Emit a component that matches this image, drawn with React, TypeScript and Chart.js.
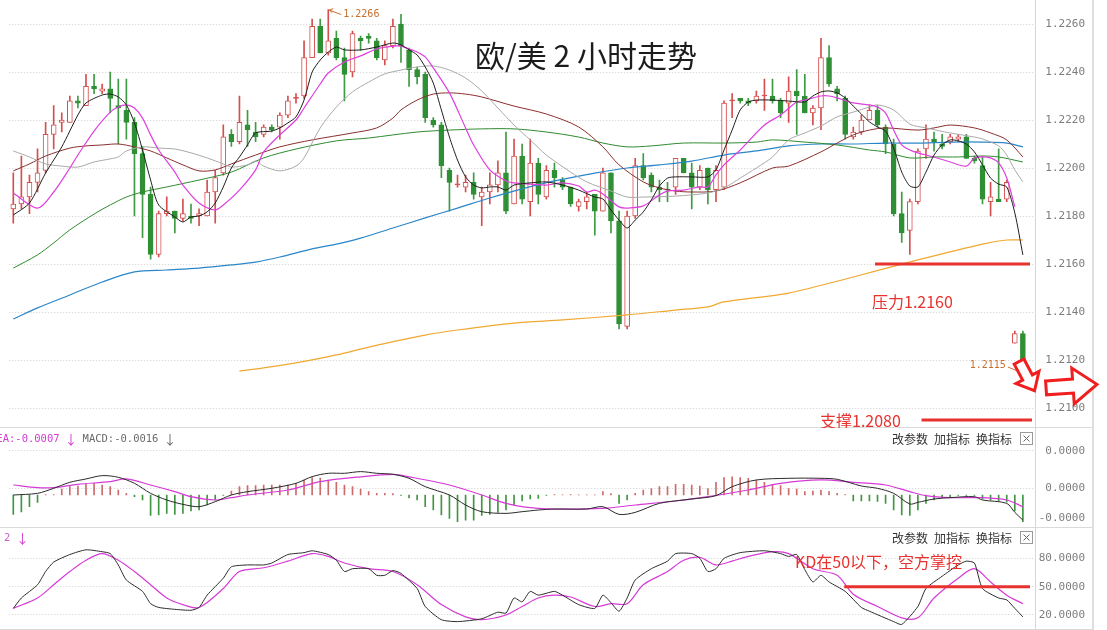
import React, { useEffect, useRef } from 'react';
import { Chart, registerables } from 'chart.js';
Chart.register(...registerables);

// ---------- data ----------
const SLOT_COUNT = 127;
const slotLabels = Array.from({ length: SLOT_COUNT }, (_, i) => String(i));

const opens = [1.2183,1.2185,1.2188,1.2194,1.2199,1.2214,1.2219,1.2219,1.2228,1.2226,
 1.2234,1.2232,1.2233,1.2226,1.2224,1.2219,1.2206,1.2189,1.2164,1.2181,
 1.2182,1.2179,1.2180,1.2180,1.2180,1.2190,1.2198,1.2214,1.2211,1.2218,
 1.2215,1.2214,1.2217,1.2217,1.2222,1.2229,1.2230,1.2246,1.2259,1.2248,
 1.2254,1.2246,1.2240,1.2254,1.2255,1.2253,1.2245,1.2251,1.2260,1.2249,
 1.2241,1.2239,1.2220,1.2218,1.2199,1.2193,1.2192,1.2194,1.2188,1.2190,
 1.2193,1.2198,1.2185,1.2205,1.2186,1.2202,1.2188,1.2199,1.2195,1.2192,
 1.2184,1.2186,1.2189,1.2182,1.2198,1.2178,1.2134,1.2180,1.2201,1.2197,
 1.2192,1.21912,1.2192,1.2204,1.2198,1.2192,1.2200,1.2191,1.2192,1.2228,
 1.2229,1.2228,1.2228,1.2230,1.2230,1.2228,1.2227,1.2232,1.2230,1.2223,
 1.2225,1.2246,1.2233,1.2229,1.2213,1.2215,1.2220,1.2224,1.2217,1.2210,
 1.2181,1.2174,1.2186,1.2208,1.2212,1.2210,1.2211,1.2212,1.2213,1.2204,
 1.2201,1.2186,1.2187,1.2187,1.2127,1.2131];
const highs = [1.2198,1.2205,1.2197,1.2208,1.2219,1.2226,1.2223,1.2230,1.2230,1.2239,
 1.2239,1.2235,1.2240,1.2237,1.2237,1.2221,1.2209,1.2192,1.2182,1.2188,
 1.2182,1.2187,1.2185,1.2183,1.2195,1.2199,1.2218,1.2216,1.2230,1.2224,
 1.2219,1.2218,1.2218,1.2223,1.2230,1.2231,1.2253,1.2262,1.2262,1.2266,
 1.2257,1.2250,1.2257,1.2255,1.2256,1.2254,1.2253,1.2262,1.2264,1.2250,
 1.2242,1.2240,1.2221,1.2219,1.2200,1.2197,1.2197,1.2198,1.2192,1.2198,
 1.2203,1.2215,1.2212,1.2210,1.2212,1.2204,1.2201,1.2202,1.2196,1.2192,
 1.2187,1.2190,1.2189,1.2200,1.2198,1.2182,1.2182,1.2204,1.2206,1.2198,
 1.2195,1.2194,1.2204,1.2204,1.2202,1.2201,1.2200,1.2201,1.2228,1.2231,
 1.2229,1.2229,1.2232,1.2237,1.2237,1.2229,1.2238,1.2241,1.2239,1.2226,
 1.2254,1.2251,1.2234,1.2230,1.2217,1.2222,1.2226,1.2226,1.2218,1.2212,
 1.2190,1.2187,1.2208,1.2218,1.2215,1.2214,1.2214,1.2214,1.2214,1.2205,
 1.2205,1.2194,1.2208,1.2195,1.2132,1.2132];
const lows = [1.2177,1.2183,1.2181,1.2190,1.2198,1.2208,1.2215,1.2219,1.2225,1.2226,
 1.2231,1.2231,1.2223,1.2210,1.2212,1.2180,1.2171,1.2162,1.2163,1.2180,
 1.2173,1.2178,1.2177,1.2176,1.2180,1.2177,1.2197,1.2209,1.2210,1.2209,
 1.2211,1.2213,1.2215,1.2212,1.2221,1.2227,1.2229,1.2246,1.2248,1.2247,
 1.2245,1.2228,1.2238,1.2249,1.2252,1.2245,1.2243,1.2250,1.2244,1.2234,
 1.2235,1.2219,1.2217,1.2196,1.2182,1.2192,1.2190,1.2187,1.2176,1.2185,
 1.2190,1.2181,1.2185,1.2185,1.2180,1.2185,1.2187,1.2192,1.2191,1.2184,
 1.2182,1.2183,1.2172,1.2182,1.2173,1.2133,1.2133,1.2179,1.2195,1.2190,
 1.2186,1.2186,1.2189,1.2198,1.2183,1.2191,1.2185,1.2186,1.2191,1.2221,
 1.2227,1.2226,1.2227,1.2224,1.2227,1.2221,1.2219,1.2214,1.2223,1.2218,
 1.2216,1.2234,1.2228,1.2212,1.2212,1.2214,1.2220,1.2217,1.2206,1.2180,
 1.2169,1.2164,1.2185,1.2204,1.2207,1.2208,1.2210,1.2211,1.2204,1.2202,
 1.2185,1.2180,1.2186,1.2186,1.2127,1.2115];
const closes = [1.2185,1.2188,1.2194,1.2198,1.2214,1.2218,1.2220,1.2228,1.2227,1.2234,
 1.2233,1.2233,1.2229,1.2225,1.2219,1.2206,1.2189,1.2164,1.2181,1.2182,
 1.2179,1.2181,1.2179,1.2181,1.2190,1.2196,1.2213,1.2211,1.2219,1.2216,
 1.2213,1.2217,1.2216,1.2222,1.2228,1.2229,1.2246,1.2259,1.2248,1.2253,
 1.2246,1.2239,1.2256,1.2253,1.2254,1.2246,1.2251,1.2259,1.2251,1.2241,
 1.2238,1.2221,1.2218,1.2201,1.2194,1.2193,1.2194,1.2189,1.2190,1.2193,
 1.2198,1.2182,1.2205,1.2187,1.2202,1.2189,1.2199,1.2196,1.2192,1.2185,
 1.2186,1.2188,1.2182,1.2198,1.2178,1.2135,1.2180,1.2201,1.2196,1.2192,
 1.2191,1.21908,1.2204,1.2198,1.2192,1.2199,1.2191,1.2199,1.2227,1.2228,
 1.2228,1.2227,1.2230,1.2230,1.2228,1.2223,1.2232,1.2230,1.2223,1.2225,
 1.2246,1.2235,1.2231,1.2214,1.2215,1.2220,1.2224,1.2218,1.2210,1.2181,
 1.2173,1.2186,1.2207,1.2212,1.2211,1.2209,1.2213,1.2213,1.2204,1.2203,
 1.2187,1.2188,1.2186,1.2194,1.2131,1.2118];

// moving averages: [candle index, price]
const ma5 = [[0,1.21804],[2,1.21854],[4,1.21979],[6,1.22088],[8,1.22221],[9,1.22271],[11,1.22304],[12,1.22308],[13,1.22296],[14,1.22263],[15,1.22188],[16,1.22075],[17,1.2195],[18,1.21846],[20,1.21796],[21,1.21775],[22,1.21796],[23,1.218],[24,1.21817],[25,1.21854],[26,1.21921],[27,1.22],[28,1.22046],[29,1.22096],[30,1.22146],[32,1.22154],[33,1.22167],[34,1.22188],[35,1.22213],[36,1.22283],[37,1.224],[38,1.2245],[39,1.22483],[40,1.22504],[41,1.22492],[43,1.22492],[45,1.22504],[47,1.22521],[48,1.22513],[49,1.22492],[50,1.22471],[51,1.22421],[52,1.22354],[53,1.22242],[54,1.22129],[55,1.22033],[56,1.21963],[57,1.21929],[58,1.21917],[59,1.21921],[60,1.21921],[61,1.21908],[62,1.21929],[64,1.21938],[66,1.21942],[68,1.21929],[70,1.21908],[72,1.21879],[73,1.21871],[74,1.21825],[75,1.21783],[76,1.2175],[77,1.21783],[78,1.21817],[79,1.21867],[80,1.21925],[81,1.21958],[82,1.21963],[84,1.21963],[86,1.21963],[87,1.21992],[88,1.22075],[89,1.22158],[90,1.22242],[91,1.22275],[92,1.22283],[94,1.22283],[96,1.22279],[98,1.22275],[99,1.223],[100,1.22317],[101,1.22321],[102,1.22313],[103,1.22292],[104,1.22258],[105,1.22225],[106,1.22192],[107,1.22171],[108,1.22154],[109,1.22083],[110,1.21983],[111,1.21925],[112,1.21921],[113,1.21983],[114,1.22054],[115,1.22096],[116,1.22117],[117,1.22113],[118,1.221],[119,1.22067],[120,1.22013],[121,1.21958],[122,1.21933],[123,1.21921],[124,1.21813],[125,1.21638]];
const ma10 = [[0,1.21896],[3,1.21833],[5,1.219],[7,1.22],[8,1.22054],[10,1.22154],[12,1.22233],[13,1.22254],[14,1.22263],[15,1.2225],[16,1.22208],[17,1.22138],[18,1.22075],[20,1.21983],[21,1.21929],[23,1.21854],[25,1.21825],[26,1.21846],[28,1.21908],[30,1.21992],[31,1.22067],[33,1.22138],[35,1.222],[36,1.2225],[38,1.2235],[39,1.22396],[41,1.22442],[43,1.22467],[45,1.22496],[47,1.22508],[48,1.22508],[49,1.22496],[50,1.22483],[51,1.22463],[52,1.22417],[54,1.22313],[56,1.22167],[57,1.22096],[59,1.21992],[61,1.21946],[62,1.21938],[64,1.21933],[66,1.21929],[68,1.21938],[70,1.21925],[71,1.219],[72,1.21908],[73,1.21892],[75,1.21838],[76,1.21833],[78,1.21842],[80,1.21888],[81,1.21904],[83,1.21908],[85,1.21921],[86,1.21921],[87,1.21971],[88,1.22013],[90,1.22075],[93,1.22179],[95,1.22221],[97,1.22275],[98,1.22283],[100,1.223],[101,1.223],[102,1.22292],[104,1.22271],[106,1.22263],[107,1.22254],[108,1.22229],[109,1.22158],[110,1.22096],[111,1.22075],[112,1.22063],[114,1.22046],[116,1.22025],[118,1.22008],[119,1.22042],[120,1.22046],[121,1.22042],[122,1.22021],[123,1.21958],[124,1.21838]];
const ma20 = [[0,1.22071],[2,1.22046],[4,1.22017],[6,1.22008],[8,1.22004],[10,1.22025],[12,1.22038],[13,1.22046],[14,1.22071],[16,1.22088],[18,1.22083],[20,1.22079],[22,1.22063],[24,1.22042],[26,1.22017],[27,1.22004],[29,1.22013],[30,1.22029],[31,1.22008],[33,1.21988],[35,1.22008],[36,1.22042],[38,1.22167],[40,1.22254],[42,1.22317],[44,1.22358],[46,1.22392],[48,1.22408],[50,1.22421],[52,1.22425],[54,1.22408],[56,1.22375],[58,1.22321],[60,1.2225],[62,1.22179],[64,1.22117],[66,1.22054],[69,1.21983],[71,1.21942],[74,1.21904],[76,1.21879],[78,1.21879],[82,1.21883],[86,1.21896],[88,1.21917],[90,1.21958],[92,1.22],[94,1.22046],[96,1.22117],[98,1.22146],[100,1.22175],[102,1.22213],[104,1.22233],[106,1.22254],[107,1.22263],[109,1.22242],[111,1.22183],[113,1.22167],[116,1.22146],[119,1.22129],[120,1.22121],[122,1.22092],[123,1.22054],[124,1.21992],[125,1.21942]];
const ma30 = [[0,1.21988],[2,1.22017],[4,1.2205],[7,1.22083],[9,1.22092],[11,1.22096],[13,1.221],[15,1.22088],[17,1.22071],[19,1.22042],[21,1.22013],[23,1.21988],[25,1.21992],[27,1.22017],[30,1.22054],[33,1.22088],[37,1.22117],[42,1.22146],[45,1.22167],[47,1.22208],[48,1.22242],[50,1.22283],[52,1.22308],[54,1.22313],[56,1.22308],[58,1.22296],[62,1.22258],[66,1.22225],[70,1.22171],[73,1.22088],[75,1.22013],[78,1.21942],[80,1.21917],[82,1.21904],[84,1.219],[87,1.21904],[90,1.21938],[94,1.22],[96,1.22008],[100,1.22067],[102,1.22104],[104,1.22138],[106,1.22158],[108,1.22167],[112,1.22158],[114,1.22167],[116,1.22179],[119,1.22167],[121,1.22146],[123,1.22117],[125,1.22046]];
const ma60 = [[0,1.21583],[3,1.21638],[5,1.21688],[7,1.21742],[10,1.21808],[12,1.21846],[14,1.21879],[16,1.219],[19,1.21921],[23,1.2195],[27,1.21983],[31,1.22042],[35,1.22079],[40,1.22113],[44,1.22125],[50,1.2215],[54,1.22158],[58,1.22163],[62,1.22163],[66,1.2215],[70,1.22129],[73,1.22104],[76,1.22088],[79,1.22092],[83,1.22104],[88,1.22104],[92,1.22108],[94,1.22117],[98,1.22108],[102,1.22096],[106,1.22075],[108,1.22067],[111,1.22042],[114,1.22046],[117,1.22046],[120,1.2205],[122,1.22046],[125,1.22025]];
const ma120 = [[0,1.21371],[3,1.21417],[7,1.21471],[11,1.21525],[15,1.21567],[19,1.21575],[23,1.21583],[27,1.21596],[30,1.21608],[33,1.21629],[37,1.21663],[40,1.21683],[43,1.21708],[47,1.2175],[51,1.21792],[55,1.21833],[59,1.21875],[63,1.21913],[67,1.21946],[72,1.21979],[76,1.22],[80,1.22013],[84,1.22029],[88,1.22054],[92,1.22071],[96,1.22092],[100,1.221],[104,1.221],[108,1.22104],[112,1.22104],[116,1.22108],[120,1.22108],[123,1.22104],[125,1.22088]];
const ma250 = [[28,1.21154],[31,1.21167],[35,1.21188],[40,1.21221],[44,1.21254],[51,1.21304],[55,1.21325],[62,1.21354],[68,1.21367],[76,1.21388],[82,1.21408],[86,1.21421],[88,1.21442],[96,1.21479],[104,1.21546],[112,1.21617],[120,1.21683],[123,1.217],[125,1.217]];

const priceTicks = [1.21, 1.212, 1.214, 1.216, 1.218, 1.22, 1.222, 1.224, 1.226];
const PRESSURE_LEVEL = 1.2160;
const SUPPORT_LINE_LEVEL = 1.2095;
const pressureText = '压力1.2160';
const supportText = '支撑1.2080';
const chartTitle = '欧/美 2 小时走势';

// MACD
const macdHist = [-0.00117,-0.00101,-0.0007,-0.00045,0.00003,0.00003,0.00036,0.0005,0.00054,0.00064,
 0.0007,0.0006,0.0005,0.0003,0.0001,-0.0001,-0.0003,-0.00123,-0.0012,-0.0011,
 -0.00116,-0.0011,-0.00095,-0.00089,-0.0006,-0.0003,-0.00003,0.00024,0.0005,0.00056,
 0.00056,0.0006,0.0006,0.0006,0.0006,0.0007,0.00089,0.00104,0.00101,0.00089,
 0.00076,0.0006,0.0005,0.00036,0.0002,0.0001,0.0001,0.00008,-0.00002,-0.00017,
 -0.0003,-0.0007,-0.00089,-0.0012,-0.0014,-0.0016,-0.0015,-0.0015,-0.00123,-0.00116,
 -0.00104,-0.00089,-0.0006,-0.00036,-0.00024,-0.0002,-0.00003,0.00002,0.00001,0.00002,
 0.00001,0.00001,0.00001,0.0002,0.00008,-0.0005,-0.0003,0.0001,0.0003,0.00039,
 0.0005,0.0005,0.00064,0.00064,0.0006,0.00054,0.00039,0.00076,0.00104,0.00109,
 0.00104,0.001,0.00089,0.00076,0.00064,0.00056,0.00039,0.00036,0.0002,0.00024,
 0.0003,0.0002,0.0001,0.00002,-0.00036,-0.00036,-0.00036,-0.00039,-0.0005,-0.00089,
 -0.0012,-0.00123,-0.00089,-0.0005,-0.0003,-0.00016,-0.00016,-0.00002,-0.00002,-0.00002,
 -0.00024,-0.0003,-0.00036,-0.00042,-0.00095,-0.0016];
const difPts = [[0,0],[3,0.0001],[5,0.0004],[7,0.00076],[9,0.00096],[11,0.00116],[13,0.00106],[15,0.0007],[17,0.0001],[19,-0.0003],[21,-0.00056],[23,-0.0007],[25,-0.0004],[27,0],[29,0.0002],[32,0.0004],[35,0.0007],[37,0.0011],[39,0.0013],[41,0.0013],[43,0.0014],[45,0.0013],[47,0.00124],[49,0.001],[51,0.0005],[54,0],[56,-0.0006],[58,-0.001],[61,-0.0011],[63,-0.001],[65,-0.0009],[67,-0.00084],[71,-0.00084],[73,-0.0007],[75,-0.00116],[77,-0.00104],[80,-0.0005],[84,-0.00024],[87,-0.00004],[89,0.0005],[92,0.0009],[96,0.001],[100,0.001],[102,0.00094],[105,0.00054],[107,0.0004],[109,0.0001],[111,-0.00054],[112,-0.00044],[114,-0.00024],[116,-0.00016],[119,-0.0001],[120,-0.0003],[123,-0.0005],[124,-0.00104],[125,-0.0015]];
const deaPts = [[0,0.0006],[3,0.00044],[5,0.00044],[8,0.00064],[12,0.0008],[14,0.00096],[17,0.0006],[20,0.0002],[22,-0.0001],[25,-0.0003],[27,-0.00016],[29,0],[34,0.0003],[38,0.0008],[43,0.00109],[47,0.00123],[49,0.00109],[54,0.0006],[58,0],[61,-0.0005],[64,-0.00076],[67,-0.00084],[73,-0.0008],[77,-0.0006],[82,-0.00036],[86,-0.0001],[91,0.0003],[95,0.0007],[100,0.0009],[104,0.00076],[108,0.0006],[111,0.0002],[113,-0.00004],[116,-0.00016],[120,-0.00016],[123,-0.0003],[125,-0.0007]];
const macdTickValues = [0.002635, 0.000419, -0.001377];
const macdTickLabels = ['0.0000', '0.0000', '-0.0000'];

// KD
const kPts = [[0,27],[1,38],[3,52],[4,66],[5,76],[7,84],[9,89],[11,87],[12,85],[13,73],[14,57],[16,45],[17,32],[18,28],[20,26],[22,25],[23,28],[24,41],[26,59],[27,71],[29,73],[31,73],[32,75],[34,84],[36,86],[37,88],[39,84],[40,78],[41,66],[42,69],[44,69],[45,62],[46,62],[47,67],[48,64],[50,48],[51,29],[53,15],[55,13],[58,16],[60,23],[61,22],[62,38],[63,34],[64,45],[65,41],[67,45],[68,41],[70,31],[72,27],[73,41],[74,33],[75,24],[76,38],[77,57],[79,69],[81,77],[82,85],[84,85],[85,80],[86,66],[87,69],[88,80],[90,86],[93,88],[95,85],[96,82],[97,84],[98,68],[99,55],[100,62],[101,55],[103,45],[105,28],[106,24],[109,13],[110,10],[112,29],[113,48],[115,61],[117,73],[118,77],[119,75],[120,48],[122,38],[123,36],[124,27],[125,18]];
const dPts = [[0,27],[3,38],[5,52],[7,66],[9,78],[11,85],[13,78],[15,66],[17,52],[19,38],[21,31],[23,28],[26,48],[28,66],[31,70],[34,77],[37,85],[39,82],[41,75],[44,69],[47,66],[50,52],[53,31],[56,18],[58,15],[61,20],[63,29],[65,38],[67,41],[69,39],[72,29],[74,32],[76,32],[78,52],[81,66],[83,78],[85,81],[87,73],[89,77],[91,82],[94,87],[96,85],[99,69],[102,62],[104,42],[107,29],[110,17],[112,17],[114,38],[117,59],[119,69],[121,55],[123,41],[125,32]];
const kdTicks = [80, 50, 20];
const KD_LEVEL = 50;
const kdNote = 'KD在50以下，空方掌控';
const panelButtons = ['改参数', '加指标', '换指标'];

// ---------- styling ----------
const UP = '#d44f4f';
const DOWN = '#2f8f34';
const GRID = '#cfcfcf';
const NOTE_RED = '#e8322e';
const LABEL_ORANGE = '#c8702e';
const CJK = '"Noto Sans CJK SC", sans-serif';
const MONO = '"DejaVu Sans Mono", monospace';
const W = 1107;
const AXIS_W = 50;
const PAD_L = 9.26;
const PAD_R = 22;
const MAIN_H = 428;
const MACD_H = 100;
const KD_H = 102;

const sparse = (pts: number[][]) => {
  const out: (number | null)[] = new Array(SLOT_COUNT).fill(null);
  for (const [i, v] of pts) out[i] = v;
  return out;
};

const lineDs = (label: string, pts: number[][], color: string, width = 1, tension = 0.3) => ({
  type: 'line', label, data: sparse(pts), borderColor: color, borderWidth: width,
  pointRadius: 0, tension, spanGaps: true, fill: false, order: 1,
});

const xScale = { type: 'category', labels: slotLabels, offset: true, display: false, grid: { display: false } };

const yScale = (min: number, max: number, tickVals: number[], fmt: (v: number, i: number) => string, gridFilter?: (i: number) => boolean) => ({
  position: 'right', min, max,
  afterFit: (s: any) => { s.width = AXIS_W; s.paddingTop = 0; s.paddingBottom = 0; },
  afterBuildTicks: (s: any) => { s.ticks = tickVals.map((v) => ({ value: v })); },
  ticks: {
    autoSkip: false, crossAlign: 'far', padding: 0, color: '#7d7d7d',
    font: { family: '"DejaVu Sans Mono", monospace', size: 11 },
    callback: (v: number, i: number) => fmt(v, i),
  },
  grid: {
    drawTicks: false, lineWidth: 1,
    color: (c: any) => (gridFilter && !gridFilter(c.index) ? 'rgba(0,0,0,0)' : GRID),
  },
  border: { display: false, dash: [1, 2] },
});

const baseOptions = (scales: any) => ({
  responsive: false, animation: false, maintainAspectRatio: false, events: [],
  layout: { padding: { left: PAD_L, right: PAD_R, top: 0, bottom: 0 } },
  plugins: { legend: { display: false }, tooltip: { enabled: false } },
  scales,
});

const hline = (ctx: any, x1: number, y1: number, x2: number, y2: number) => {
  ctx.beginPath(); ctx.moveTo(x1, y1); ctx.lineTo(x2, y2); ctx.stroke();
};

const frame = (chart: any) => {
  const { ctx, chartArea } = chart;
  ctx.strokeStyle = '#d6d6d6'; ctx.lineWidth = 1;
  hline(ctx, Math.round(chartArea.right) + 0.5, 0, Math.round(chartArea.right) + 0.5, chart.height);
  ctx.strokeStyle = '#dedede'; ctx.lineWidth = 2;
  hline(ctx, 1093, 0, 1093, chart.height);
  ctx.strokeStyle = '#dadada'; ctx.lineWidth = 1;
  hline(ctx, 0, chart.height - 0.5, 1093, chart.height - 0.5);
};

const drawArrow = (ctx: any, cx: number, cy: number, angDeg: number, tail: number, tip: number, shaftHalf: number, headHalf: number) => {
  const a = (angDeg * Math.PI) / 180;
  const pts = [[-tail, -shaftHalf], [0, -shaftHalf], [0, -headHalf], [tip, 0], [0, headHalf], [0, shaftHalf], [-tail, shaftHalf]];
  ctx.beginPath();
  pts.forEach(([px, py], k) => {
    const x = cx + px * Math.cos(a) - py * Math.sin(a);
    const y = cy + px * Math.sin(a) + py * Math.cos(a);
    if (k === 0) ctx.moveTo(x, y); else ctx.lineTo(x, y);
  });
  ctx.closePath();
  ctx.fillStyle = '#fff'; ctx.fill();
  ctx.strokeStyle = '#f01e1e'; ctx.lineWidth = 3; ctx.lineJoin = 'miter'; ctx.stroke();
};

const panelHeader = (ctx: any, cy: number) => {
  ctx.font = `12px ${CJK}`; ctx.fillStyle = '#333'; ctx.textAlign = 'left'; ctx.textBaseline = 'middle';
  panelButtons.forEach((t, k) => ctx.fillText(t, 892 + k * 42, cy));
  ctx.strokeStyle = '#9a9a9a'; ctx.lineWidth = 1;
  ctx.strokeRect(1020.5, cy - 6.5, 12, 12);
  ctx.strokeStyle = '#666';
  hline(ctx, 1023.5, cy - 3.5, 1029.5, cy + 2.5);
  hline(ctx, 1029.5, cy - 3.5, 1023.5, cy + 2.5);
};

const mainDecor = {
  id: 'mainDecor',
  afterDraw(chart: any) {
    const { ctx, chartArea, scales } = chart;
    const xs = scales.x, ys = scales.y;
    ctx.save();
    frame(chart);
    // title
    ctx.fillStyle = '#1c1c1c'; ctx.font = `30px ${CJK}`; ctx.textAlign = 'center'; ctx.textBaseline = 'middle';
    ctx.fillText(chartTitle, 586, 56);
    // highest point label
    let hi = 0; highs.forEach((v, i) => { if (v > highs[hi]) hi = i; });
    const hx = xs.getPixelForValue(hi), hy = ys.getPixelForValue(highs[hi]);
    ctx.strokeStyle = LABEL_ORANGE; ctx.lineWidth = 1;
    hline(ctx, hx + 1, hy + 0.5, hx + 13, hy + 5);
    hline(ctx, hx + 1, hy + 0.5, hx + 5, hy - 1);
    hline(ctx, hx + 1, hy + 0.5, hx + 4, hy + 3);
    ctx.fillStyle = LABEL_ORANGE; ctx.font = `10px ${MONO}`; ctx.textAlign = 'left';
    ctx.fillText(highs[hi].toFixed(4), hx + 15, hy + 5);
    // lowest point label (last candle)
    const li = lows.length - 1;
    const lx = xs.getPixelForValue(li), ly = ys.getPixelForValue(lows[li]);
    hline(ctx, lx - 15, ly - 5, lx - 3, ly);
    ctx.textAlign = 'right';
    ctx.fillText(lows[li].toFixed(4), lx - 17, ly - 7);
    // pressure / support lines
    const step = xs.getPixelForValue(1) - xs.getPixelForValue(0);
    const py = ys.getPixelForValue(PRESSURE_LEVEL);
    ctx.strokeStyle = NOTE_RED; ctx.lineWidth = 3;
    hline(ctx, xs.getPixelForValue(107) - 0.3 * step, py, chartArea.right - 5, py);
    const sy = ys.getPixelForValue(SUPPORT_LINE_LEVEL);
    hline(ctx, xs.getPixelForValue(112) + 0.45 * step, sy, chartArea.right - 3, sy);
    ctx.fillStyle = NOTE_RED; ctx.font = `16px ${CJK}`; ctx.textAlign = 'left';
    ctx.fillText(pressureText, 872, py + 38);
    ctx.fillText(supportText, 820, sy + 1);
    // hollow arrows
    drawArrow(ctx, 1027.5, 377.5, 62, 18, 15, 5.5, 13);
    drawArrow(ctx, 1073, 386, -4, 27, 24, 7, 18);
    ctx.restore();
  },
};

const macdDecor = {
  id: 'macdDecor',
  afterDraw(chart: any) {
    const { ctx } = chart;
    ctx.save();
    frame(chart);
    const cy = 11;
    ctx.font = `10.5px ${MONO}`; ctx.textBaseline = 'middle'; ctx.textAlign = 'left';
    const deaTxt = `DEA:${deaPts[deaPts.length - 1][1].toFixed(4)}`;
    let x = 9 - ctx.measureText('DEA').width;
    ctx.fillStyle = '#d23ad2'; ctx.fillText(deaTxt, x, cy);
    x += ctx.measureText(deaTxt).width + 5;
    ctx.font = `13px ${CJK}`;
    ctx.fillText('↓', x, cy);
    x += ctx.measureText('↓').width + 5;
    ctx.font = `10.5px ${MONO}`;
    const macdTxt = `MACD:${macdHist[macdHist.length - 1].toFixed(4)}`;
    ctx.fillStyle = '#6a6a6a'; ctx.fillText(macdTxt, x, cy);
    x += ctx.measureText(macdTxt).width + 5;
    ctx.font = `13px ${CJK}`;
    ctx.fillText('↓', x, cy);
    panelHeader(ctx, cy);
    ctx.restore();
  },
};

const kdDecor = {
  id: 'kdDecor',
  afterDraw(chart: any) {
    const { ctx, chartArea, scales } = chart;
    const xs = scales.x, ys = scales.y;
    ctx.save();
    frame(chart);
    const cy = 10;
    ctx.font = `10.5px ${MONO}`; ctx.textBaseline = 'middle'; ctx.textAlign = 'left';
    ctx.fillStyle = '#c860c8'; ctx.fillText('2', 4, cy);
    ctx.fillStyle = '#d23ad2'; ctx.font = `13px ${CJK}`; ctx.fillText('↓', 16, cy);
    panelHeader(ctx, cy);
    const y50 = ys.getPixelForValue(KD_LEVEL);
    ctx.strokeStyle = NOTE_RED; ctx.lineWidth = 3;
    hline(ctx, xs.getPixelForValue(103) - 1, y50, chartArea.right - 5, y50);
    ctx.fillStyle = NOTE_RED; ctx.font = `16px ${CJK}`; ctx.textAlign = 'left';
    ctx.fillText(kdNote, 795, y50 - 25);
    ctx.restore();
  },
};

export default function App() {
  const mainRef = useRef<HTMLCanvasElement>(null);
  const macdRef = useRef<HTMLCanvasElement>(null);
  const kdRef = useRef<HTMLCanvasElement>(null);

  useEffect(() => {
    const isUp = (i: number) => closes[i] >= opens[i];
    const mainChart = new Chart(mainRef.current as HTMLCanvasElement, {
      type: 'bar',
      data: {
        labels: slotLabels,
        datasets: [
          lineDs('MA5', ma5, '#1e1e1e', 1, 0.25),
          lineDs('MA10', ma10, '#de3fde', 1.2),
          lineDs('MA20', ma20, '#a9a9a9', 1),
          lineDs('MA30', ma30, '#8a2e2e', 1),
          lineDs('MA60', ma60, '#2f8a2f', 1),
          lineDs('MA120', ma120, '#2a86c8', 1.2),
          lineDs('MA250', ma250, '#f0a830', 1.2),
          {
            type: 'bar', label: 'body', data: opens.map((o, i) => [o, closes[i]]),
            backgroundColor: opens.map((o, i) => (isUp(i) ? (closes[i] === o ? UP : '#ffffff') : DOWN)),
            borderColor: opens.map((_, i) => (isUp(i) ? UP : DOWN)),
            borderWidth: 1, borderSkipped: false, barThickness: 5, grouped: false, minBarLength: 1, order: 2,
          },
          {
            type: 'bar', label: 'wick', data: lows.map((l, i) => [l, highs[i]]),
            backgroundColor: opens.map((_, i) => (isUp(i) ? UP : '#3f9a44')),
            borderWidth: 0, barThickness: 1, grouped: false, order: 3,
          },
        ],
      } as any,
      options: baseOptions({
        x: xScale,
        y: yScale(1.2270 - MAIN_H / 24000, 1.2270, priceTicks, (v) => v.toFixed(4)),
      }) as any,
      plugins: [mainDecor],
    });

    const macdChart = new Chart(macdRef.current as HTMLCanvasElement, {
      type: 'bar',
      data: {
        labels: slotLabels,
        datasets: [
          lineDs('DIF', difPts, '#2a2a2a', 1, 0.3),
          lineDs('DEA', deaPts, '#d63ad6', 1.2, 0.3),
          {
            type: 'bar', label: 'MACD', data: macdHist,
            backgroundColor: macdHist.map((v) => (v >= 0 ? '#cf6a6a' : '#3f963f')),
            borderWidth: 0, barThickness: 1, grouped: false, order: 2,
          },
        ],
      } as any,
      options: baseOptions({
        x: xScale,
        y: yScale(-0.001976, 0.004012, macdTickValues, (_v, i) => macdTickLabels[i], (i) => i < 2),
      }) as any,
      plugins: [macdDecor],
    });

    const kdChart = new Chart(kdRef.current as HTMLCanvasElement, {
      type: 'line',
      data: {
        labels: slotLabels,
        datasets: [lineDs('K', kPts, '#2a2a2a', 1, 0.2), lineDs('D', dPts, '#d63ad6', 1.2, 0.3)],
      } as any,
      options: baseOptions({
        x: xScale,
        y: yScale(4.11, 112.1, kdTicks, (v) => v.toFixed(4)),
      }) as any,
      plugins: [kdDecor],
    });

    return () => { mainChart.destroy(); macdChart.destroy(); kdChart.destroy(); };
  }, []);

  return (
    <div style={{ position: 'fixed', left: 0, top: 0, width: W, height: 630, background: '#fff', overflow: 'hidden' }}>
      <canvas ref={mainRef} width={W} height={MAIN_H} style={{ position: 'absolute', left: 0, top: 0 }} />
      <canvas ref={macdRef} width={W} height={MACD_H} style={{ position: 'absolute', left: 0, top: MAIN_H }} />
      <canvas ref={kdRef} width={W} height={KD_H} style={{ position: 'absolute', left: 0, top: MAIN_H + MACD_H }} />
    </div>
  );
}
